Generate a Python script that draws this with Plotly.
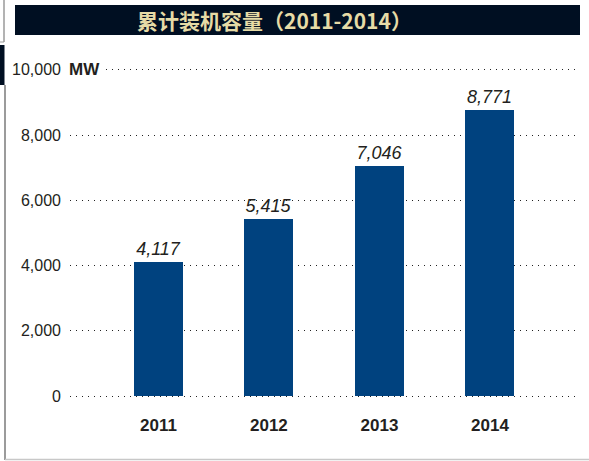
import plotly.graph_objects as go

years = ["2011", "2012", "2013", "2014"]
capacity_mw = [4117, 5415, 7046, 8771]
value_labels = ["4,117", "5,415", "7,046", "8,771"]
y_tick_vals = [0, 2000, 4000, 6000, 8000, 10000]
y_tick_text = ["0", "2,000", "4,000", "6,000", "8,000", "10,000"]
title_text = "累计装机容量（2011-2014）"
unit_text = "MW"

W, H = 589, 461
L, R, T, B = 70, 11, 65, 60
PW, PH = W - L - R, H - T - B


def px(x):
    return (x - L) / PW


def py(y):
    return (H - B - y) / PH


FONT = "Liberation Sans Narrow, Arial Narrow, sans-serif"
TXT = "#231f20"

fig = go.Figure()
fig.add_trace(go.Bar(
    x=list(range(len(years))),
    y=capacity_mw,
    width=0.443,
    marker=dict(color="#00427f", line=dict(width=0)),
    text=value_labels,
    textposition="outside",
    textfont=dict(family=FONT, size=18, color=TXT, style="italic"),
    cliponaxis=False,
    hoverinfo="skip",
))

shapes = [
    # title bar
    dict(type="rect", xref="paper", yref="paper",
         x0=px(15), x1=px(580), y0=py(35), y1=py(5),
         fillcolor="#000f22", line=dict(width=0), layer="above"),
    # page-edge artifacts
    dict(type="line", xref="paper", yref="paper",
         x0=px(4), x1=px(4), y0=py(0), y1=py(42),
         line=dict(color="#9a9a9a", width=1.5)),
    dict(type="line", xref="paper", yref="paper",
         x0=px(0), x1=px(4), y0=py(42), y1=py(42),
         line=dict(color="#9a9a9a", width=1)),
    dict(type="rect", xref="paper", yref="paper",
         x0=px(0), x1=px(4.5), y0=py(85), y1=py(45),
         fillcolor="#000f22", line=dict(width=0)),
    dict(type="line", xref="paper", yref="paper",
         x0=px(5), x1=px(5), y0=py(85), y1=py(460),
         line=dict(color="#7a7a7a", width=1.5)),
    dict(type="line", xref="paper", yref="paper",
         x0=px(5), x1=px(589), y0=py(459.5), y1=py(459.5),
         line=dict(color="#c8c8c8", width=1.5)),
]

annotations = [
    dict(text=title_text, xref="paper", yref="paper",
         x=px(274), y=py(20), xanchor="center", yanchor="middle",
         showarrow=False,
         font=dict(family="Noto Sans CJK SC", size=21, color="#e6dba6", weight="bold")),
    dict(text="<b>" + unit_text + "</b>", xref="paper", yref="y",
         x=px(67), y=10000, xanchor="left", yanchor="middle",
         showarrow=False, bgcolor="white", borderpad=1,
         font=dict(family=FONT, size=17, color=TXT)),
]

fig.update_layout(
    width=W, height=H,
    margin=dict(l=L, r=R, t=T, b=B, pad=0),
    paper_bgcolor="white", plot_bgcolor="white",
    showlegend=False,
    bargap=0,
    shapes=shapes,
    annotations=annotations,
    xaxis=dict(
        range=[-0.80, 3.797],
        tickvals=list(range(len(years))),
        ticktext=["<b>" + y + "</b>" for y in years],
        tickfont=dict(family=FONT, size=17, color=TXT),
        showgrid=False, zeroline=False, showline=False,
        ticks="", ticklabelstandoff=12,
        fixedrange=True,
    ),
    yaxis=dict(
        range=[-150, 10150],
        tickvals=y_tick_vals,
        ticktext=y_tick_text,
        tickfont=dict(family=FONT, size=16, color=TXT),
        showgrid=True, gridcolor="#222222", gridwidth=1.2, griddash="1px,5px",
        zeroline=False, showline=False, ticks="",
        ticklabelstandoff=8,
        fixedrange=True,
    ),
)

fig.write_html(
    "out.html",
    config={"displayModeBar": False},
    post_script="document.body.style.margin='0';document.body.style.overflow='hidden';",
)
